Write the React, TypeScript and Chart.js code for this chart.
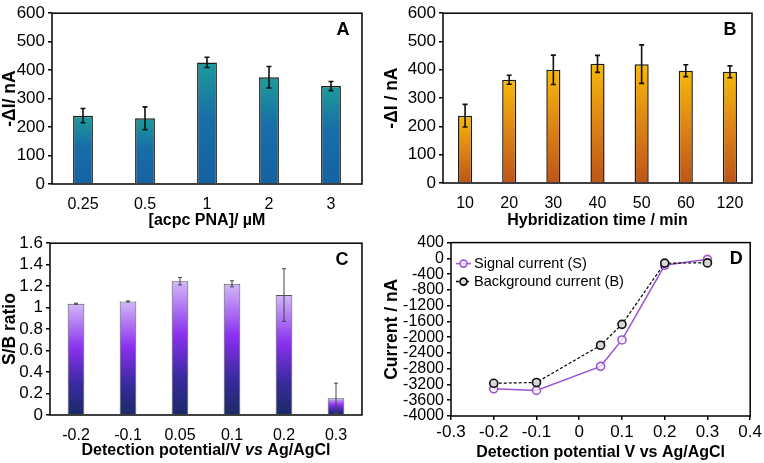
import React, { useEffect, useRef } from 'react';
import { Chart, registerables } from 'chart.js';

Chart.register(...registerables);

const FONT = "'Liberation Sans', Arial, Helvetica, sans-serif";

// ---------- Data ----------
const aCategories = ['0.25', '0.5', '1', '2', '3'];
const aValues = [240, 231, 427, 375, 344];
const aErrors = [25, 40, 18, 38, 16];

const bCategories = ['10', '20', '30', '40', '50', '60', '120'];
const bValues = [238, 365, 400, 421, 420, 397, 393];
const bErrors = [40, 16, 52, 30, 68, 21, 21];

const cCategories = ['-0.2', '-0.1', '0.05', '0.1', '0.2', '0.3'];
const cValues = [1.036, 1.057, 1.246, 1.222, 1.117, 0.156];
const cErrors = [0.005, 0.005, 0.035, 0.028, 0.245, 0.14];

const dPotentials = [-0.2, -0.1, 0.05, 0.1, 0.2, 0.3];
const dSignal = [-3310, -3350, -2740, -2070, -175, -25];
const dBackground = [-3170, -3150, -2205, -1675, -120, -115];

type Stop = [number, string];
const aStops: Stop[] = [[0, '#1C9C9A'], [0.45, '#186EA8'], [1, '#1462A2']];
const bStops: Stop[] = [[0, '#F6BA08'], [0.5, '#DC8416'], [1, '#BC5518']];
const cStops: Stop[] = [[0, '#D2B8F8'], [0.4, '#8A30EE'], [0.72, '#3A2AA0'], [1, '#1A2A66']];

function barGradient(stops: Stop[]) {
  return (ctx: any) => {
    const chart = ctx.chart;
    const y = chart.scales && chart.scales.y;
    if (!y || ctx.type !== 'data') return stops[stops.length - 1][1];
    const v = ctx.raw as number;
    const top = y.getPixelForValue(v);
    const base = y.getPixelForValue(0);
    if (!isFinite(top) || !isFinite(base) || Math.abs(base - top) < 1) return stops[0][1];
    const g = chart.ctx.createLinearGradient(0, top, 0, base);
    stops.forEach(([o, c]) => g.addColorStop(o, c));
    return g;
  };
}

function errorBarPlugin(errors: number[], color: string, width: number, cap: number) {
  return {
    id: 'errbars',
    afterDatasetsDraw(chart: any) {
      const meta = chart.getDatasetMeta(0);
      const y = chart.scales.y;
      const data = chart.data.datasets[0].data as number[];
      const c = chart.ctx as CanvasRenderingContext2D;
      c.save();
      c.strokeStyle = color;
      c.lineWidth = width;
      meta.data.forEach((el: any, i: number) => {
        const v = data[i];
        const e = errors[i];
        const x = el.x;
        const y1 = y.getPixelForValue(v + e);
        const y2 = y.getPixelForValue(v - e);
        c.beginPath();
        c.moveTo(x, y1);
        c.lineTo(x, y2);
        c.moveTo(x - cap, y1);
        c.lineTo(x + cap, y1);
        c.moveTo(x - cap, y2);
        c.lineTo(x + cap, y2);
        c.stroke();
      });
      c.restore();
    },
  };
}

function framePlugin(letter: string, dx: number, dy: number) {
  return {
    id: 'frame',
    afterDraw(chart: any) {
      const { left, top, right, bottom } = chart.chartArea;
      const c = chart.ctx as CanvasRenderingContext2D;
      c.save();
      c.strokeStyle = '#000';
      c.lineWidth = 1.5;
      c.strokeRect(left, top, right - left, bottom - top);
      c.fillStyle = '#000';
      c.font = `bold 18px ${FONT}`;
      c.textAlign = 'center';
      c.textBaseline = 'middle';
      c.fillText(letter, right - dx, top + dy);
      c.restore();
    },
  };
}

const xTickFont = { family: FONT, size: 16 };
const yTickFont = { family: FONT, size: 17 };
const titleFont = { family: FONT, size: 16, weight: 'bold' as const, lineHeight: 1 };
const yTitleFont = { family: FONT, size: 17.5, weight: 'bold' as const, lineHeight: 1 };

function numLabel(v: any) {
  const n = Math.round(Number(v) * 10) / 10;
  return String(n === 0 ? 0 : n);
}

interface BarPanelProps {
  categories: string[];
  values: number[];
  errors: number[];
  stops: Stop[];
  max: number;
  step: number;
  yTitle: string;
  xTitle: string;
  letter: string;
  letterDx: number;
  yWidth: number;
  xHeight: number;
  padRight: number;
  borderColor: string;
  borderWidth: number;
  errColor: string;
  errWidth: number;
  errCap: number;
  customXTitle?: boolean;
  width: number;
  height: number;
}

function BarPanel(p: BarPanelProps) {
  const ref = useRef<HTMLCanvasElement>(null);
  useEffect(() => {
    if (!ref.current) return;
    const plugins: any[] = [errorBarPlugin(p.errors, p.errColor, p.errWidth, p.errCap), framePlugin(p.letter, p.letterDx, 17)];
    if (p.customXTitle) {
      plugins.push({
        id: 'xtitle',
        afterDraw(chart: any) {
          const c = chart.ctx as CanvasRenderingContext2D;
          const { left, right } = chart.chartArea;
          const parts: [string, string][] = [
            ['Detection potential/V ', `bold 16px ${FONT}`],
            ['vs', `italic bold 16px ${FONT}`],
            [' Ag/AgCl', `bold 16px ${FONT}`],
          ];
          c.save();
          let total = 0;
          parts.forEach(([t, f]) => { c.font = f; total += c.measureText(t).width; });
          let x = (left + right) / 2 - total / 2;
          c.fillStyle = '#000';
          c.textBaseline = 'middle';
          c.textAlign = 'left';
          parts.forEach(([t, f]) => { c.font = f; c.fillText(t, x, p.height - 12); x += c.measureText(t).width; });
          c.restore();
        },
      });
    }
    const chart = new Chart(ref.current, {
      type: 'bar',
      data: {
        labels: p.categories,
        datasets: [
          {
            data: p.values,
            backgroundColor: barGradient(p.stops) as any,
            borderColor: p.borderColor,
            borderWidth: p.borderWidth,
            categoryPercentage: 1,
            barPercentage: 0.32,
          },
        ],
      },
      options: {
        responsive: false,
        animation: false,
        devicePixelRatio: 1,
        layout: { padding: { top: 7, right: p.padRight, left: 0, bottom: 0 } },
        plugins: { legend: { display: false }, tooltip: { enabled: false } },
        scales: {
          x: {
            grid: { display: false },
            border: { display: false },
            ticks: { font: xTickFont, color: '#000', padding: 3 },
            title: { display: !p.customXTitle, text: p.xTitle, font: titleFont, color: '#000', padding: { top: 0, bottom: 1 } },
            afterFit: (s: any) => { s.height = p.xHeight; },
          },
          y: {
            min: 0,
            max: p.max,
            ticks: { stepSize: p.step, font: yTickFont, color: '#000', padding: 3, autoSkip: false, callback: numLabel },
            grid: { drawOnChartArea: false, drawTicks: true, tickLength: 4, color: '#000', lineWidth: 1.5 },
            border: { display: false },
            title: { display: true, text: p.yTitle, font: yTitleFont, color: '#000', padding: { top: 1, bottom: 0 } },
            afterFit: (s: any) => { s.width = p.yWidth; },
          },
        },
      },
      plugins,
    });
    return () => chart.destroy();
  }, []);
  return <canvas ref={ref} width={p.width} height={p.height} style={{ width: p.width, height: p.height, display: 'block' }} />;
}

function LinePanel() {
  const ref = useRef<HTMLCanvasElement>(null);
  useEffect(() => {
    if (!ref.current) return;
    const signalColor = '#9B55D2';
    const legendPlugin = {
      id: 'dlegend',
      afterDraw(chart: any) {
        const c = chart.ctx as CanvasRenderingContext2D;
        const { left, top } = chart.chartArea;
        const rows = [
          { text: 'Signal current (S)', color: signalColor, dash: [] as number[], fill: 'rgba(255,255,255,0.7)', y: top + 21 },
          { text: 'Background current (B)', color: '#000', dash: [3, 2], fill: '#d8d8d8', y: top + 39 },
        ];
        c.save();
        rows.forEach((r) => {
          c.strokeStyle = r.color;
          c.lineWidth = 1.5;
          c.setLineDash(r.dash);
          c.beginPath();
          c.moveTo(left + 5, r.y);
          c.lineTo(left + 20, r.y);
          c.stroke();
          c.setLineDash([]);
          c.beginPath();
          c.arc(left + 12.5, r.y, 3.5, 0, Math.PI * 2);
          c.fillStyle = r.fill;
          c.fill();
          c.lineWidth = 1.6;
          c.stroke();
          c.fillStyle = '#000';
          c.font = `14.5px ${FONT}`;
          c.textAlign = 'left';
          c.textBaseline = 'middle';
          c.fillText(r.text, left + 23, r.y);
        });
        c.restore();
      },
    };
    const chart = new Chart(ref.current, {
      type: 'line',
      data: {
        datasets: [
          {
            label: 'Signal current (S)',
            data: dPotentials.map((x, i) => ({ x, y: dSignal[i] })),
            borderColor: signalColor,
            borderWidth: 1.5,
            pointRadius: 4,
            pointBorderWidth: 1.6,
            pointBorderColor: signalColor,
            pointBackgroundColor: 'rgba(255,255,255,0.7)',
            order: 1,
          },
          {
            label: 'Background current (B)',
            data: dPotentials.map((x, i) => ({ x, y: dBackground[i] })),
            borderColor: '#000',
            borderWidth: 1.2,
            borderDash: [3, 2],
            pointRadius: 4,
            pointBorderWidth: 1.6,
            pointBorderColor: '#111',
            pointBackgroundColor: '#d8d8d8',
            order: 0,
          },
        ],
      },
      options: {
        responsive: false,
        animation: false,
        devicePixelRatio: 1,
        layout: { padding: { top: 7, right: 11, left: 0, bottom: 0 } },
        plugins: { legend: { display: false }, tooltip: { enabled: false } },
        scales: {
          x: {
            type: 'linear',
            min: -0.3,
            max: 0.4,
            ticks: { stepSize: 0.1, font: { family: FONT, size: 17 }, color: '#000', padding: 2, autoSkip: false, callback: numLabel },
            grid: { drawOnChartArea: false, drawTicks: true, tickLength: 4, color: '#000', lineWidth: 1.5 },
            border: { display: false },
            title: { display: true, text: 'Detection potential V vs Ag/AgCl', font: titleFont, color: '#000', padding: { top: 0, bottom: 2 } },
            afterFit: (s: any) => { s.height = 47; },
          },
          y: {
            min: -4000,
            max: 400,
            ticks: { stepSize: 400, font: { family: FONT, size: 16 }, color: '#000', padding: 3, autoSkip: false, callback: (v: any) => String(Math.round(Number(v))) },
            grid: { drawOnChartArea: false, drawTicks: true, tickLength: 4, color: '#000', lineWidth: 1.5 },
            border: { display: false },
            title: { display: true, text: 'Current / nA', font: yTitleFont, color: '#000', padding: { top: 1, bottom: 0 } },
            afterFit: (s: any) => { s.width = 69; },
          },
        },
      },
      plugins: [framePlugin('D', 14, 16), legendPlugin],
    });
    return () => chart.destroy();
  }, []);
  return <canvas ref={ref} width={382} height={233} style={{ width: 382, height: 233, display: 'block' }} />;
}

export default function App() {
  return (
    <div style={{ position: 'absolute', left: 0, top: 0, width: 764, height: 463, background: '#fff' }}>
      <div style={{ position: 'absolute', left: 0, top: 0 }}>
        <BarPanel categories={aCategories} values={aValues} errors={aErrors} stops={aStops} max={600} step={100}
          yTitle="-ΔI/ nA" xTitle="[acpc PNA]/ µM" letter="A" letterDx={19} yWidth={52} xHeight={46} padRight={20}
          borderColor="#1c1c1c" borderWidth={1.5} errColor="#111" errWidth={1.6} errCap={2.5} width={382} height={230} />
      </div>
      <div style={{ position: 'absolute', left: 382, top: 0 }}>
        <BarPanel categories={bCategories} values={bValues} errors={bErrors} stops={bStops} max={600} step={100}
          yTitle="-ΔI / nA" xTitle="Hybridization time / min" letter="B" letterDx={22} yWidth={61} xHeight={47} padRight={12}
          borderColor="#1c1c1c" borderWidth={1.5} errColor="#111" errWidth={1.6} errCap={2.5} width={382} height={230} />
      </div>
      <div style={{ position: 'absolute', left: 0, top: 230 }}>
        <BarPanel categories={cCategories} values={cValues} errors={cErrors} stops={cStops} max={1.6} step={0.2}
          yTitle="S/B ratio" xTitle="" letter="C" letterDx={20} yWidth={50} xHeight={48} padRight={20}
          borderColor="#555" borderWidth={1} errColor="#444" errWidth={1} errCap={2} customXTitle width={382} height={233} />
      </div>
      <div style={{ position: 'absolute', left: 382, top: 230 }}>
        <LinePanel />
      </div>
    </div>
  );
}
